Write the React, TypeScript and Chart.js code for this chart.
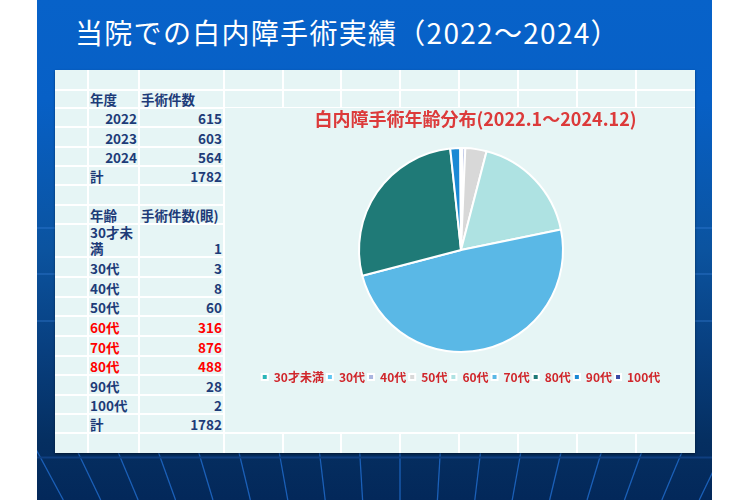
import React, { useEffect, useRef } from "react";
import { Chart, registerables } from "chart.js";

Chart.register(...registerables);

// ---------- data ----------
const slideTitle = "当院での白内障手術実績（2022～2024）";
const chartTitle = "白内障手術年齢分布(2022.1～2024.12)";

const yearHeader = ["年度", "手術件数"];
const years = ["2022", "2023", "2024"];
const yearCounts = [615, 603, 564];

const ageHeader = ["年齢", "手術件数(眼)"];
const ageLabels = ["30才未満", "30代", "40代", "50代", "60代", "70代", "80代", "90代", "100代"];
const ageCounts = [1, 3, 8, 60, 316, 876, 488, 28, 2];
const ageColors = ["#2bb6b8", "#5ec7f3", "#a9b5df", "#d8d8d8", "#aee2e2", "#5ab8e6", "#1f7a77", "#1a89d4", "#3a4ba6"];
const highlightAges = ["60代", "70代", "80代"];
const totalLabel = "計";

// ---------- layout (not data) ----------
const FONT = "'Noto Sans CJK JP', 'Noto Sans', sans-serif";
const rowTops = [70, 90, 108, 127, 147, 166, 185, 205, 224, 257, 277, 297, 316, 336, 356, 375, 395, 414, 433, 453];
const colXs = [55, 88, 139, 224, 283, 341, 400, 459, 518, 577, 636, 695];
const PANEL_BG = "#e6f5f5";
const TEXT = "#1d3b78";
const RED = "#ff0000";

function sum(a: number[]) {
  return a.reduce((s, v) => s + v, 0);
}

type CellProps = { row: number; col: number; text: string; align: "left" | "right"; color?: string };

function Cell({ row, col, text, align, color }: CellProps) {
  const x0 = colXs[col];
  const x1 = colXs[col + 1];
  const y0 = rowTops[row];
  const y1 = rowTops[row + 1];
  return (
    <div
      style={{
        position: "absolute",
        left: x0 + 2,
        top: y0,
        width: x1 - x0 - 4,
        height: y1 - y0 - 1,
        display: "flex",
        alignItems: "flex-end",
        justifyContent: align === "left" ? "flex-start" : "flex-end",
        textAlign: align,
        fontFamily: FONT,
        fontWeight: "bold",
        fontSize: 13.5,
        lineHeight: "16px",
        color: color || TEXT,
        wordBreak: "break-all",
      }}
    >
      <span>{text}</span>
    </div>
  );
}

function Background() {
  const lines: JSX.Element[] = [];
  const vx = 400;
  const vy = 1125;
  for (let k = -10; k <= 9; k++) {
    const xt = vx + k * 41;
    const yt = 440;
    const yb = 500;
    const xb = xt + ((vx - xt) * (yb - yt)) / (vy - yt);
    lines.push(<line key={k} x1={xt} y1={yt} x2={xb} y2={yb} stroke="#1e66c2" strokeWidth={1.3} opacity={0.9} />);
  }
  return (
    <svg width={675} height={500} viewBox="37 0 675 500" style={{ position: "absolute", left: 37, top: 0 }}>
      {lines}
      <line x1={37} y1={457.5} x2={712} y2={457.5} stroke="#0f3f80" strokeWidth={2} />
      {[228, 274, 321].map((y) => (
        <line key={y} x1={37} y1={y} x2={712} y2={y} stroke="#3d86e0" strokeWidth={1} opacity={0.6} />
      ))}
    </svg>
  );
}

function GridLines() {
  const els: JSX.Element[] = [];
  colXs.slice(1, -1).forEach((x, i) => {
    els.push(
      <div key={"v" + i} style={{ position: "absolute", left: x - 1, top: rowTops[0], width: 2, height: rowTops[rowTops.length - 1] - rowTops[0], background: "#ffffff" }} />
    );
  });
  rowTops.slice(1, -1).forEach((y, i) => {
    els.push(
      <div key={"h" + i} style={{ position: "absolute", left: colXs[0], top: y - 1, width: colXs[colXs.length - 1] - colXs[0], height: 2, background: "#ffffff" }} />
    );
  });
  return <>{els}</>;
}

export default function App() {
  const canvasRef = useRef<HTMLCanvasElement | null>(null);

  useEffect(() => {
    if (!canvasRef.current) return;
    const shiftTitle = {
      id: "shiftTitle",
      afterLayout(chart: any) {
        const tb = chart.titleBlock;
        if (tb) {
          tb.left += 14.5;
          tb.right += 14.5;
        }
      },
    };
    const chart = new Chart(canvasRef.current, {
      type: "pie",
      data: {
        labels: ageLabels,
        datasets: [
          {
            data: ageCounts,
            backgroundColor: ageColors,
            borderColor: "#ffffff",
            borderWidth: 2,
            radius: 102,
          } as any,
        ],
      },
      options: {
        animation: false,
        responsive: false,
        maintainAspectRatio: false,
        layout: { padding: { left: 3, right: 0, top: 0, bottom: 40 } },
        plugins: {
          title: {
            display: true,
            text: chartTitle,
            color: "#dc3a3a",
            font: { family: FONT, size: 18, weight: "bold" },
            padding: { top: 0, bottom: 2.4 },
          },
          legend: {
            position: "bottom",
            labels: {
              boxWidth: 6,
              boxHeight: 6,
              padding: 3,
              color: "#d0262b",
              font: { family: FONT, size: 12, weight: "bold" },
            },
          },
          tooltip: { enabled: false },
        },
      },
      plugins: [shiftTitle],
    });
    return () => chart.destroy();
  }, []);

  const cells: JSX.Element[] = [];
  cells.push(<Cell key="yh0" row={1} col={1} text={yearHeader[0]} align="left" />);
  cells.push(<Cell key="yh1" row={1} col={2} text={yearHeader[1]} align="left" />);
  years.forEach((y, i) => {
    cells.push(<Cell key={"y" + i} row={2 + i} col={1} text={y} align="right" />);
    cells.push(<Cell key={"yc" + i} row={2 + i} col={2} text={String(yearCounts[i])} align="right" />);
  });
  cells.push(<Cell key="yt" row={5} col={1} text={totalLabel} align="left" />);
  cells.push(<Cell key="ytv" row={5} col={2} text={String(sum(yearCounts))} align="right" />);
  cells.push(<Cell key="ah0" row={7} col={1} text={ageHeader[0]} align="left" />);
  cells.push(<Cell key="ah1" row={7} col={2} text={ageHeader[1]} align="left" />);
  ageLabels.forEach((a, i) => {
    const c = highlightAges.includes(a) ? RED : undefined;
    cells.push(<Cell key={"a" + i} row={8 + i} col={1} text={a} align="left" color={c} />);
    cells.push(<Cell key={"ac" + i} row={8 + i} col={2} text={String(ageCounts[i])} align="right" color={c} />);
  });
  cells.push(<Cell key="at" row={17} col={1} text={totalLabel} align="left" />);
  cells.push(<Cell key="atv" row={17} col={2} text={String(sum(ageCounts))} align="right" />);

  return (
    <div style={{ position: "fixed", left: 0, top: 0, width: 750, height: 500, background: "#ffffff", overflow: "hidden" }}>
      <div
        style={{
          position: "absolute",
          left: 37,
          top: 0,
          width: 675,
          height: 500,
          background:
            "linear-gradient(to bottom, #0762c9 0px, #0760c6 100px, #0b539f 250px, #083f7f 350px, #052f61 440px, #03285a 500px)",
        }}
      />
      <Background />
      <div
        style={{
          position: "absolute",
          left: 75,
          top: 16,
          whiteSpace: "nowrap",
          fontFamily: FONT,
          fontSize: 28,
          lineHeight: "32px",
          color: "#ffffff",
          letterSpacing: 1.3,
        }}
      >
        {slideTitle}
      </div>
      <div
        style={{
          position: "absolute",
          left: colXs[0],
          top: rowTops[0],
          width: colXs[colXs.length - 1] - colXs[0],
          height: rowTops[rowTops.length - 1] - rowTops[0],
          background: PANEL_BG,
          boxShadow: "0 1px 2px rgba(0,0,0,0.5)",
        }}
      />
      <GridLines />
      {cells}
      <div
        style={{
          position: "absolute",
          left: colXs[3] + 1,
          top: rowTops[2],
          width: colXs[colXs.length - 1] - colXs[3] - 1,
          height: rowTops[18] - rowTops[2] - 1,
          background: PANEL_BG,
        }}
      >
        <canvas ref={canvasRef} width={469} height={325} style={{ display: "block" }} />
      </div>
    </div>
  );
}
